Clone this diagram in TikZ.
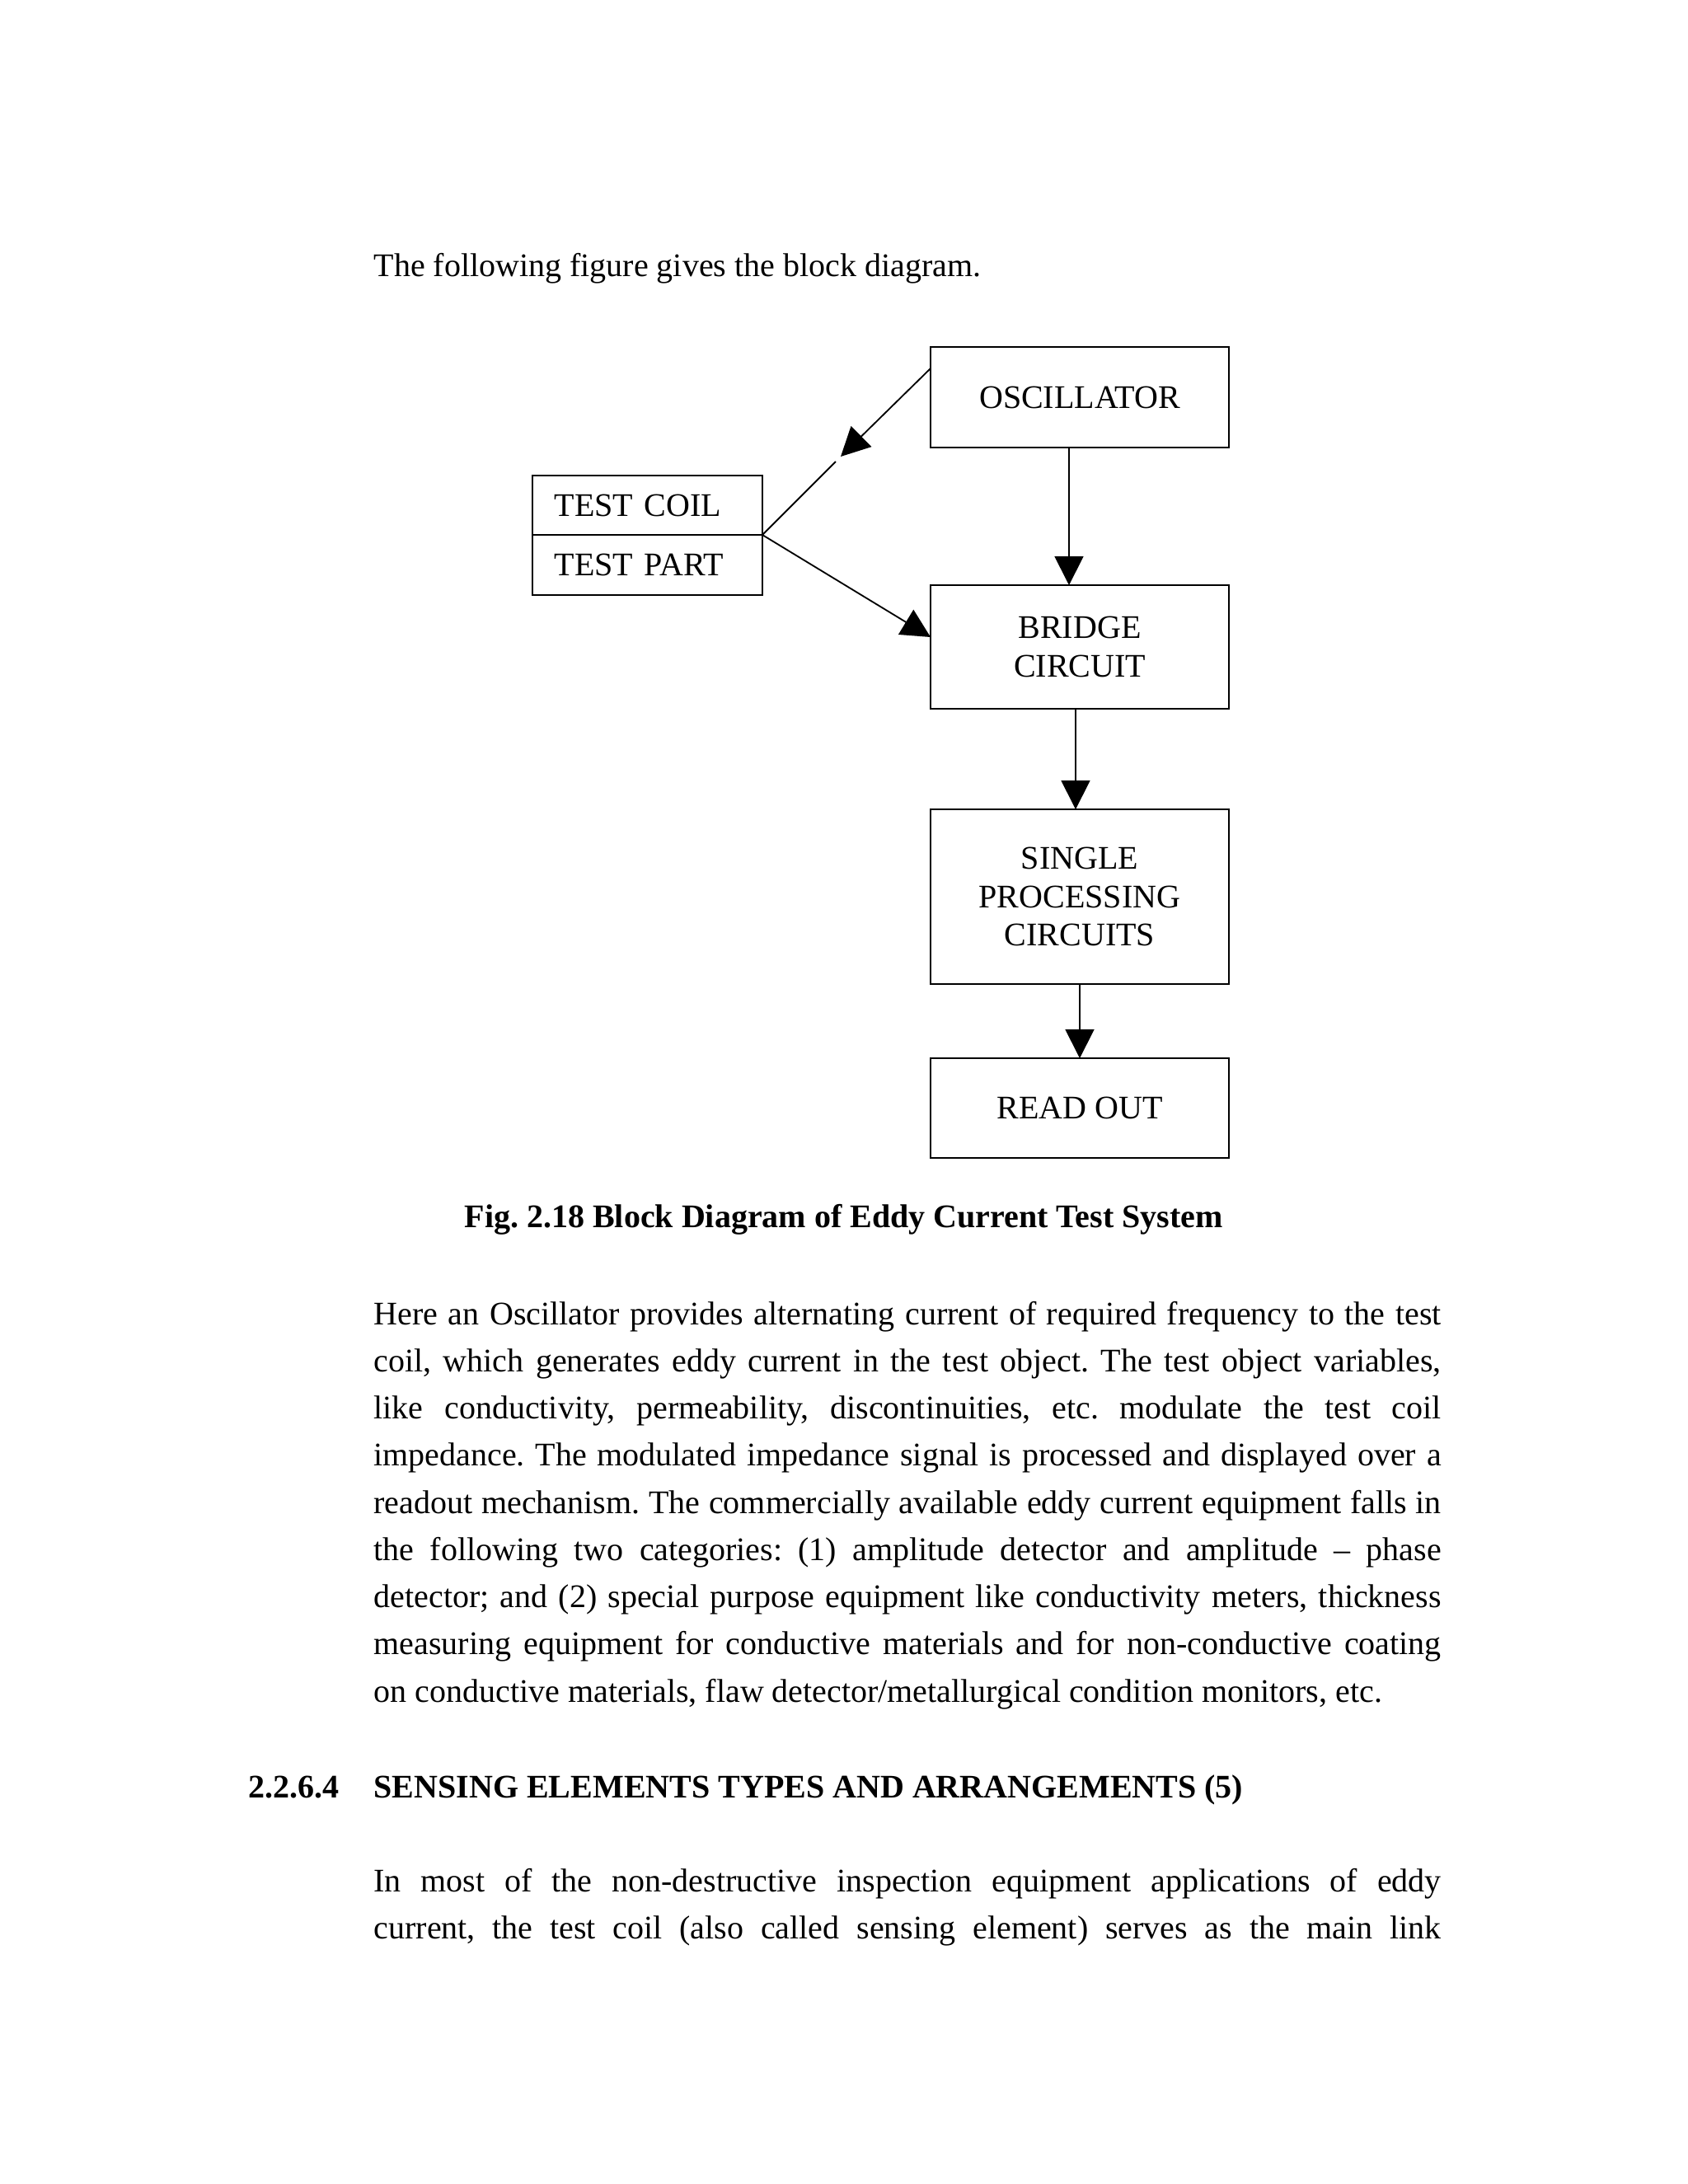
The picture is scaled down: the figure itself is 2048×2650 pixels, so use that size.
\documentclass[tikz,border=0pt]{standalone}
\usepackage{fontspec}
\setmainfont{Liberation Serif}
\usetikzlibrary{arrows.meta,positioning}
\frenchspacing

\tikzset{
  block/.style={draw, line width=0.6pt, minimum width=108.6pt, align=center, inner sep=0pt, outer sep=0pt},
  partbox/.style={draw, line width=0.6pt, text width=67.7pt, align=left, inner xsep=8pt, inner ysep=0pt, outer sep=0pt},
  bodyline/.style={anchor=base west, inner sep=0pt},
  wire/.style={line width=0.55pt},
}

\begin{document}
\begin{tikzpicture}[x=0.3pt, y=-0.3pt, font=\fontsize{12}{13.9}\selectfont,
    >={Triangle[length=10.5pt, width=10.5pt]}]
  \fill[white] (0,0) rectangle (2048,2650);

  \node[bodyline] (intro) at (453,335) {The following figure gives the block diagram.};

  % blocks
  \node[block, minimum height=36.6pt] (osc) at (1310,482) {OSCILLATOR};
  \node[block, minimum height=45pt] (bridge) at (1310,785) {BRIDGE\\CIRCUIT};
  \node[block, minimum height=63.6pt] (spc) at (1310,1088) {SINGLE\\PROCESSING\\CIRCUITS};
  \node[block, minimum height=36.3pt] (readout) at (1310,1344.5) {READ OUT};

  \node[partbox, minimum height=21.6pt] (coil) at (785.5,613) {TEST COIL};
  \node[partbox, minimum height=21.9pt, below=0pt of coil] (part) {TEST PART};

  % connectors
  \coordinate (gaptip) at (1020,554);
  \coordinate (gapend) at (1014,560);
  \draw[wire, ->] ([yshift=10.5pt]osc.west) -- (gaptip);
  \draw[wire] (coil.south east) -- (gapend);
  \draw[wire, ->] (coil.south east) -- ([yshift=3.6pt]bridge.west);
  \draw[wire, ->] ([xshift=-3.9pt]osc.south) -- ([xshift=-3.9pt]bridge.north);
  \draw[wire, ->] ([xshift=-1.5pt]bridge.south) -- ([xshift=-1.5pt]spc.north);
  \draw[wire, ->] (spc.south) -- (readout.north);

  \node[bodyline, font=\fontsize{12}{13.9}\selectfont\bfseries] (caption) at (563,1489)
    {Fig. 2.18 Block Diagram of Eddy Current Test System};

  % text below the figure
  \foreach \ptext [count=\k from 0] in {
    {Here an Oscillator provides alternating current of required frequency to the test},
    {coil, which generates eddy current in the test object. The test object variables,},
    {like conductivity, permeability, discontinuities, etc. modulate the test coil},
    {impedance. The modulated impedance signal is processed and displayed over a},
    {readout mechanism. The commercially available eddy current equipment falls in},
    {the following two categories: (1) amplitude detector and amplitude – phase},
    {detector; and (2) special purpose equipment like conductivity meters, thickness},
    {measuring equipment for conductive materials and for non-conductive coating}}
    \node[bodyline] (pa\k) at (453,{1607+57.25*\k}) {\makebox[388.5pt][s]{\ptext}};
  \node[bodyline] (pa8) at (453,2065)
    {on conductive materials, flaw detector/metallurgical condition monitors, etc.};

  \node[bodyline, font=\fontsize{12}{13.9}\selectfont\bfseries] (secnum) at (301,2181) {2.2.6.4};
  \node[bodyline, font=\fontsize{12}{13.9}\selectfont\bfseries] (heading) at (453,2181)
    {SENSING ELEMENTS TYPES AND ARRANGEMENTS (5)};

  \foreach \ptext [count=\k from 0] in {
    {In most of the non-destructive inspection equipment applications of eddy},
    {current, the test coil (also called sensing element) serves as the main link}}
    \node[bodyline] (pb\k) at (453,{2295+57*\k}) {\makebox[388.5pt][s]{\ptext}};
\end{tikzpicture}
\end{document}
